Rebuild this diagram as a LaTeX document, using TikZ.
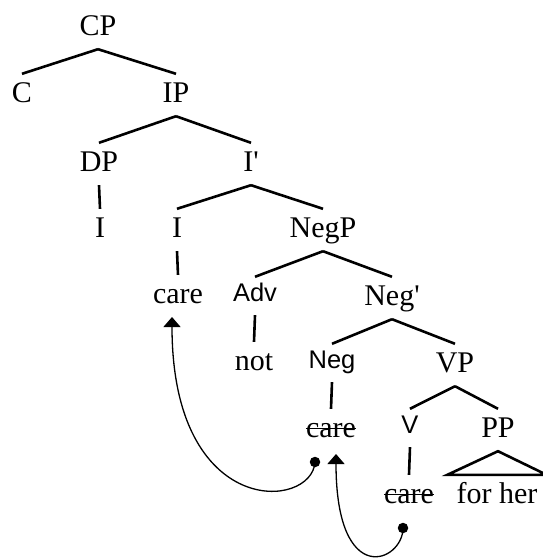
\documentclass[tikz,border=0pt]{standalone}
\usepackage{fontspec}
\setmainfont{Liberation Serif}
\newfontfamily\catsans{Liberation Sans}
\usetikzlibrary{arrows.meta}
\begin{document}
\begin{tikzpicture}[x=1pt, y=-1pt,
  lbl/.style={anchor=base, inner xsep=0pt, inner ysep=6pt,
    text height=22pt, text depth=8pt,
    font=\fontsize{30}{36}\selectfont},
  slbl/.style={anchor=base, inner xsep=0pt, inner ysep=6pt,
    text height=18pt, text depth=8pt,
    font=\catsans\fontsize{25.5}{30}\selectfont},
  branch/.style={line width=2.6pt},
  strike/.style={line width=1.7pt},
  move/.style={line width=1.3pt, -{Triangle[width=17pt,length=10pt]}},
  trace/.style={circle, fill=black, inner sep=0pt, minimum size=10.5pt}
]
\useasboundingbox (0,0) rectangle (543,558);

% categories and words, placed on their baselines
\node[lbl] (CP)     at (98,35)   {CP};
\node[lbl] (C)      at (22,102)  {C};
\node[lbl] (IP)     at (176,102) {IP};
\node[lbl] (DP)     at (99,171)  {DP};
\node[lbl] (Ibar)   at (251,171) {I\textquotesingle};
\node[lbl] (Isubj)  at (100,237) {I};
\node[lbl] (Ihead)  at (177,237) {I};
\node[lbl] (NegP)   at (323,237) {NegP};
\node[lbl] (careI)  at (178,303) {care};
\node[slbl] (Adv)   at (255,301) {Adv};
\node[lbl] (Negbar) at (392,305) {Neg\textquotesingle};
\node[lbl] (not)    at (254,370) {not};
\node[slbl] (Neg)   at (332,368) {Neg};
\node[lbl] (VP)     at (455,372) {VP};
\node[lbl] (careNeg) at (331,437) {care};
\node[slbl] (V)     at (410,433) {V};
\node[lbl] (PP)     at (498,437) {PP};
\node[lbl] (careV)  at (409,503) {care};
\node[lbl, inner xsep=9pt] (forher) at (497,503) {for her};

% struck-out copies left behind by movement
\draw[strike] ([yshift=8.5pt]careNeg.base west) -- ([yshift=8.5pt]careNeg.base east);
\draw[strike] ([yshift=8.5pt]careV.base west) -- ([yshift=8.5pt]careV.base east);

% branches
\draw[branch] (CP.south) -- (C.north);
\draw[branch] (CP.south) -- (IP.north);
\draw[branch] (IP.south) -- (DP.north);
\draw[branch] (IP.south) -- (Ibar.north);
\draw[branch] (DP.south) -- (Isubj.north);
\draw[branch] (Ibar.south) -- (Ihead.north);
\draw[branch] (Ibar.south) -- (NegP.north);
\draw[branch] (Ihead.south) -- (careI.north);
\draw[branch] (NegP.south) -- (Adv.north);
\draw[branch] (NegP.south) -- (Negbar.north);
\draw[branch] (Adv.south) -- (not.north);
\draw[branch] (Negbar.south) -- (Neg.north);
\draw[branch] (Negbar.south) -- (VP.north);
\draw[branch] (Neg.south) -- (careNeg.north);
\draw[branch] (VP.south) -- (V.north);
\draw[branch] (VP.south) -- (PP.north);
\draw[branch] (V.south) -- (careV.north);
\draw[branch, line join=miter] (PP.south) -- (forher.north east) -- (forher.north west) -- cycle;

% head movement: traces and landing sites
\node[trace] (t1) at (315,462) {};
\node[trace] (t2) at (403,528) {};
\coordinate (land1) at (172,317);
\coordinate (land2) at (336,454);
\draw[move] (t1.center) .. controls (312,510) and (172,520) .. (land1);
\draw[move] (t2.center) .. controls (403,562) and (336,590) .. (land2);
\end{tikzpicture}
\end{document}
